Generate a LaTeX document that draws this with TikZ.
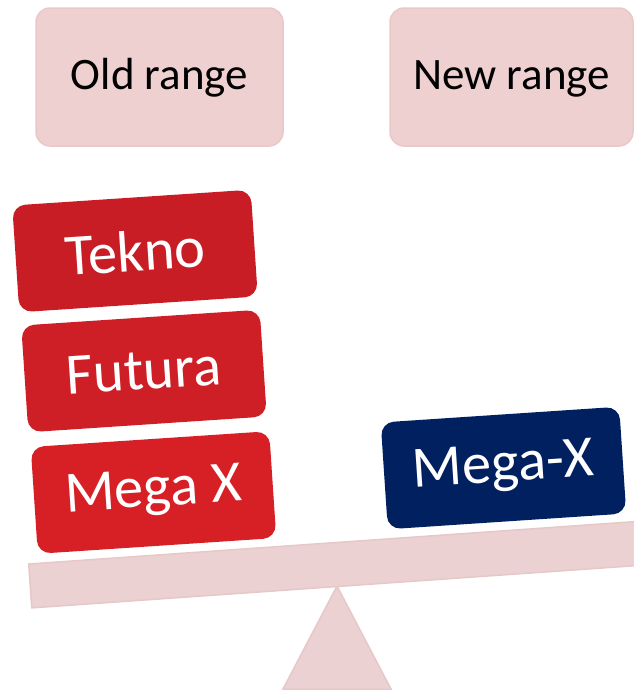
\documentclass[tikz,border=0pt]{standalone}
\usepackage{fontspec}
\setmainfont{Carlito}
\definecolor{pinkfill}{HTML}{EFD0D1}
\definecolor{pinkline}{HTML}{EBC7C9}
\definecolor{beamfill}{HTML}{EBD1D2}
\definecolor{beamline}{HTML}{E7C8C9}
\definecolor{redA}{HTML}{C91D26}
\definecolor{redB}{HTML}{CF1F26}
\definecolor{redC}{HTML}{D71F26}
\definecolor{navy}{HTML}{002060}
\begin{document}
\begin{tikzpicture}[x=1pt,y=-1pt,
  rangebox/.style={draw=pinkline, line width=1.5pt, fill=pinkfill, rounded corners=14pt,
    minimum height=138pt, inner sep=0pt, text height=34pt, text depth=10pt,
    font=\fontsize{45}{50}\selectfont, text=black},
  brandbox/.style={rounded corners=13pt, minimum width=239pt, minimum height=107pt,
    inner sep=0pt, rotate=3.8, font=\fontsize{58.5}{62}\selectfont, text=white},
  support/.style={draw=beamline, line width=1.5pt, fill=beamfill}]
\useasboundingbox (0,0) rectangle (634,691);
\clip (0,0) rectangle (634,691);
% top boxes
\node[rangebox, minimum width=247pt] (old) at (159.5,77) {Old range};
\node[rangebox, minimum width=243pt] (new) at (511.5,77) {New range};
% fulcrum
\coordinate (apex) at (337,586);
\coordinate (bl) at (283,689);
\coordinate (br) at (391,689);
\draw[support] (apex) -- (br) -- (bl) -- cycle;
% beam
\node[support, rotate=4, anchor=west, minimum width=700pt, minimum height=44pt, inner sep=0pt] (beam) at (29.5,586) {};
% brand boxes
\node[brandbox, fill=redA] (tekno) at (135,251) {Tekno};
\node[brandbox, fill=redB] (futura) at (144,371) {Futura};
\node[brandbox, fill=redC] (megaold) at (153.5,492.5) {Mega X};
\node[brandbox, fill=navy] (meganew) at (503.5,468) {Mega-X};
\end{tikzpicture}
\end{document}
